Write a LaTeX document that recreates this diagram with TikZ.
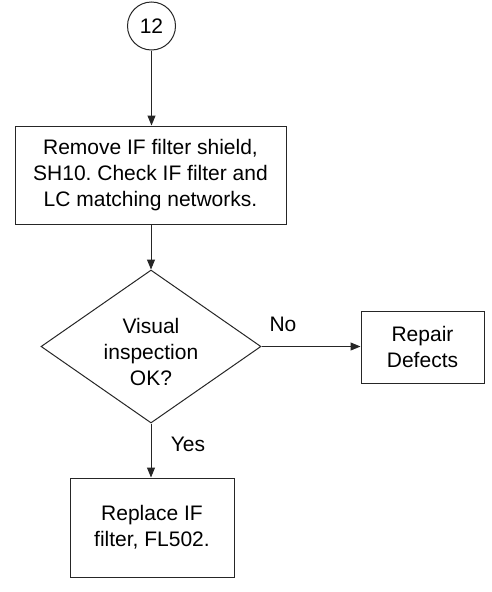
\documentclass[tikz,border=0pt]{standalone}
\usepackage{fontspec}
\setmainfont{Liberation Sans}
\usetikzlibrary{shapes.geometric,arrows.meta}
\frenchspacing
\begin{document}
\begin{tikzpicture}[x=1pt,y=-1pt,
  every node/.style={font=\fontsize{21}{26}\selectfont, text=black},
  boxnode/.style={draw=black!85, line width=1pt, inner sep=0pt, align=center},
  conn/.style={draw=black!85, line width=1pt, -{Triangle[length=10pt,width=8pt]}},
  lbl/.style={inner sep=0pt}
]
\useasboundingbox (0,0) rectangle (492,592);
\node[boxnode, circle, minimum size=48pt] (c) at (151.5,26) {12};
\node[boxnode, minimum width=271pt, minimum height=98pt] (r1) at (150.5,175)
  {Remove IF filter shield,\\SH10. Check IF filter and\\LC matching networks.};
\node[boxnode, diamond, minimum width=220pt, minimum height=153pt] (d) at (151,346.5) {};
\node[lbl, align=center] (dt) at (151,351.5) {Visual\\inspection\\OK?};
\node[boxnode, minimum width=123pt, minimum height=72pt] (rp) at (422.5,347) {Repair\\Defects};
\node[boxnode, minimum width=164pt, minimum height=99pt] (rl) at (152,527.5) {Replace IF\\filter, FL502.};
\node[lbl] (no) at (283,324) {No};
\node[lbl] (yes) at (188,444) {Yes};
\draw[conn] (c.south) -- (c.south |- r1.north);
\draw[conn] (r1.south -| d.north) -- (d.north);
\draw[conn] (d.east) -- (d.east -| rp.west);
\draw[conn] (d.south) -- (d.south |- rl.north);
\end{tikzpicture}
\end{document}
